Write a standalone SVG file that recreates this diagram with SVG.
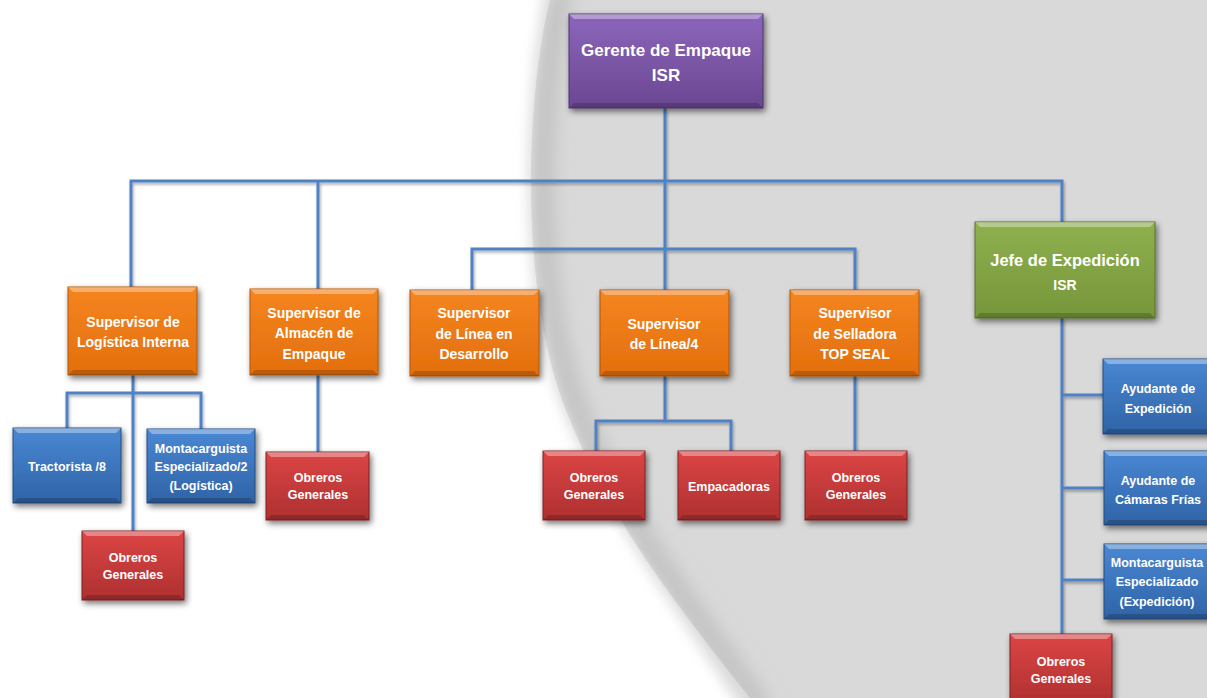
<svg xmlns="http://www.w3.org/2000/svg" width="1207" height="698" viewBox="0 0 1207 698">
<defs>
  <linearGradient id="gPur" x1="0" y1="0" x2="0" y2="1"><stop offset="0" stop-color="#8c66bb"/><stop offset="1" stop-color="#6a4791"/></linearGradient>
  <linearGradient id="gOra" x1="0" y1="0" x2="0" y2="1"><stop offset="0" stop-color="#f58520"/><stop offset="1" stop-color="#e36f0c"/></linearGradient>
  <linearGradient id="gGrn" x1="0" y1="0" x2="0" y2="1"><stop offset="0" stop-color="#8fb04e"/><stop offset="1" stop-color="#76963a"/></linearGradient>
  <linearGradient id="gRed" x1="0" y1="0" x2="0" y2="1"><stop offset="0" stop-color="#dc4545"/><stop offset="1" stop-color="#ae3030"/></linearGradient>
  <linearGradient id="gBlu" x1="0" y1="0" x2="0" y2="1"><stop offset="0" stop-color="#4a88d4"/><stop offset="1" stop-color="#2f63a6"/></linearGradient>
  <filter id="sh" x="-20%" y="-20%" width="140%" height="150%">
    <feGaussianBlur in="SourceAlpha" stdDeviation="3"/>
    <feOffset dx="2" dy="3" result="b"/>
    <feComponentTransfer><feFuncA type="linear" slope="0.55"/></feComponentTransfer>
    <feMerge><feMergeNode/><feMergeNode in="SourceGraphic"/></feMerge>
  </filter>
  <filter id="lsh" x="-5%" y="-5%" width="110%" height="110%">
    <feGaussianBlur in="SourceAlpha" stdDeviation="1.5"/>
    <feOffset dx="1" dy="2"/>
    <feComponentTransfer><feFuncA type="linear" slope="0.35"/></feComponentTransfer>
    <feMerge><feMergeNode/><feMergeNode in="SourceGraphic"/></feMerge>
  </filter>
  <filter id="blur6" x="-10%" y="-10%" width="120%" height="120%"><feGaussianBlur stdDeviation="7"/></filter>
  <filter id="blur8" x="-50%" y="-10%" width="200%" height="120%"><feGaussianBlur stdDeviation="9"/></filter>
  <clipPath id="grayClip"><path d="M550 0C525 100 518 300 570 420C610 520 680 610 750 698H1207V0Z"/></clipPath>
</defs>
<style>
  .t{font-family:"Liberation Sans",Arial,sans-serif;font-weight:bold;fill:#ffffff;text-anchor:middle}
  .big{font-size:17px}
  .mid{font-size:14px}
  .sm{font-size:12.5px}
  .hl{fill:#ffffff;fill-opacity:0.35}
  .dk{fill:#000000;fill-opacity:0.18}
  .bd{stroke-width:1}
  .pur{fill:url(#gPur);stroke:#4e3370}
  .ora{fill:url(#gOra);stroke:#b0560c}
  .grn{fill:url(#gGrn);stroke:#5a7228}
  .red{fill:url(#gRed);stroke:#7e2020}
  .blu{fill:url(#gBlu);stroke:#234d82}
  .con{fill:none;stroke:#4f81c4;stroke-width:3;stroke-linejoin:miter}
</style>
<rect width="1207" height="698" fill="#ffffff"/>
<path d="M548 -20C523 100 516 300 568 420C608 520 678 610 748 718H1230V-20Z" fill="#d9d9d9" filter="url(#blur6)"/>
<g clip-path="url(#grayClip)">
  <path d="M562 -10C537 100 530 300 582 420C622 520 692 610 762 708" fill="none" stroke="#c2c2c2" stroke-width="22" filter="url(#blur8)"/>
</g>

<g id="connectors" filter="url(#lsh)">
  <path class="con" d="M665 108V290"/>
  <path class="con" d="M131 287V181H1062V222"/>
  <path class="con" d="M318 181V289"/>
  <path class="con" d="M472 290V249H855V290"/>
  <path class="con" d="M133 375V531"/>
  <path class="con" d="M67 428V393H201V429"/>
  <path class="con" d="M318 375V452"/>
  <path class="con" d="M665 376V421"/>
  <path class="con" d="M596 451V421H731V451"/>
  <path class="con" d="M855 376V451"/>
  <path class="con" d="M1062 318V634"/>
  <path class="con" d="M1062 395H1103M1062 488H1104M1062 580H1104"/>
</g>

<g id="gerente">
  <rect class="pur bd" x="569" y="14" width="194" height="94" filter="url(#sh)"/>
  <path class="hl" d="M569 14H763L758 19H574Z"/><path class="dk" d="M569 108H763L758 103H574Z"/>
  <text class="t big" x="666" y="56">Gerente de Empaque</text>
  <text class="t big" x="666" y="81">ISR</text>
</g>
<g id="sup-logistica">
  <rect class="ora bd" x="68" y="287" width="129" height="88" filter="url(#sh)"/>
  <path class="hl" d="M68 287H197L192 292H73Z"/><path class="dk" d="M68 375H197L192 370H73Z"/>
  <text class="t mid" x="133" y="327">Supervisor de</text>
  <text class="t mid" x="133" y="347">Logística Interna</text>
</g>
<g id="sup-almacen">
  <rect class="ora bd" x="250" y="289" width="128" height="86" filter="url(#sh)"/>
  <path class="hl" d="M250 289H378L373 294H255Z"/><path class="dk" d="M250 375H378L373 370H255Z"/>
  <text class="t mid" x="314" y="318">Supervisor de</text>
  <text class="t mid" x="314" y="338">Almacén de</text>
  <text class="t mid" x="314" y="359">Empaque</text>
</g>
<g id="sup-desarrollo">
  <rect class="ora bd" x="410" y="290" width="129" height="86" filter="url(#sh)"/>
  <path class="hl" d="M410 290H539L534 295H415Z"/><path class="dk" d="M410 376H539L534 371H415Z"/>
  <text class="t mid" x="474" y="318">Supervisor</text>
  <text class="t mid" x="474" y="339">de Línea en</text>
  <text class="t mid" x="474" y="359">Desarrollo</text>
</g>
<g id="sup-linea">
  <rect class="ora bd" x="600" y="290" width="129" height="86" filter="url(#sh)"/>
  <path class="hl" d="M600 290H729L724 295H605Z"/><path class="dk" d="M600 376H729L724 371H605Z"/>
  <text class="t mid" x="664" y="329">Supervisor</text>
  <text class="t mid" x="664" y="349">de Línea/4</text>
</g>
<g id="sup-selladora">
  <rect class="ora bd" x="790" y="290" width="129" height="86" filter="url(#sh)"/>
  <path class="hl" d="M790 290H919L914 295H795Z"/><path class="dk" d="M790 376H919L914 371H795Z"/>
  <text class="t mid" x="855" y="318">Supervisor</text>
  <text class="t mid" x="855" y="339">de Selladora</text>
  <text class="t mid" x="855" y="359">TOP SEAL</text>
</g>
<g id="jefe-expedicion">
  <rect class="grn bd" x="975" y="222" width="180" height="96" filter="url(#sh)"/>
  <path class="hl" d="M975 222H1155L1150 227H980Z"/><path class="dk" d="M975 318H1155L1150 313H980Z"/>
  <text class="t" style="font-size:16.5px" x="1065" y="266">Jefe de Expedición</text>
  <text class="t mid" x="1065" y="290">ISR</text>
</g>
<g id="tractorista">
  <rect class="blu bd" x="13" y="428" width="108" height="75" filter="url(#sh)"/>
  <path class="hl" d="M13 428H121L116 433H18Z"/><path class="dk" d="M13 503H121L116 498H18Z"/>
  <text class="t sm" x="67" y="471">Tractorista /8</text>
</g>
<g id="montacarguista-log">
  <rect class="blu bd" x="147" y="429" width="108" height="74" filter="url(#sh)"/>
  <path class="hl" d="M147 429H255L250 434H152Z"/><path class="dk" d="M147 503H255L250 498H152Z"/>
  <text class="t sm" x="201" y="453">Montacarguista</text>
  <text class="t sm" x="201" y="471">Especializado/2</text>
  <text class="t sm" x="201" y="490">(Logística)</text>
</g>
<g id="obreros-log">
  <rect class="red bd" x="82" y="531" width="102" height="69" filter="url(#sh)"/>
  <path class="hl" d="M82 531H184L179 536H87Z"/><path class="dk" d="M82 600H184L179 595H87Z"/>
  <text class="t sm" x="133" y="562">Obreros</text>
  <text class="t sm" x="133" y="579">Generales</text>
</g>
<g id="obreros-alm">
  <rect class="red bd" x="266" y="452" width="103" height="68" filter="url(#sh)"/>
  <path class="hl" d="M266 452H369L364 457H271Z"/><path class="dk" d="M266 520H369L364 515H271Z"/>
  <text class="t sm" x="318" y="482">Obreros</text>
  <text class="t sm" x="318" y="499">Generales</text>
</g>
<g id="obreros-lin">
  <rect class="red bd" x="543" y="451" width="102" height="69" filter="url(#sh)"/>
  <path class="hl" d="M543 451H645L640 456H548Z"/><path class="dk" d="M543 520H645L640 515H548Z"/>
  <text class="t sm" x="594" y="482">Obreros</text>
  <text class="t sm" x="594" y="499">Generales</text>
</g>
<g id="empacadoras">
  <rect class="red bd" x="678" y="451" width="102" height="69" filter="url(#sh)"/>
  <path class="hl" d="M678 451H780L775 456H683Z"/><path class="dk" d="M678 520H780L775 515H683Z"/>
  <text class="t sm" x="729" y="491">Empacadoras</text>
</g>
<g id="obreros-sel">
  <rect class="red bd" x="805" y="451" width="102" height="69" filter="url(#sh)"/>
  <path class="hl" d="M805 451H907L902 456H810Z"/><path class="dk" d="M805 520H907L902 515H810Z"/>
  <text class="t sm" x="856" y="482">Obreros</text>
  <text class="t sm" x="856" y="499">Generales</text>
</g>
<g id="ayudante-exp">
  <rect class="blu bd" x="1103" y="359" width="110" height="75" filter="url(#sh)"/>
  <path class="hl" d="M1103 359H1213L1208 364H1108Z"/><path class="dk" d="M1103 434H1213L1208 429H1108Z"/>
  <text class="t sm" x="1158" y="393">Ayudante de</text>
  <text class="t sm" x="1158" y="413">Expedición</text>
</g>
<g id="ayudante-cam">
  <rect class="blu bd" x="1104" y="451" width="110" height="74" filter="url(#sh)"/>
  <path class="hl" d="M1104 451H1214L1209 456H1109Z"/><path class="dk" d="M1104 525H1214L1209 520H1109Z"/>
  <text class="t sm" x="1158" y="485">Ayudante de</text>
  <text class="t sm" x="1158" y="504">Cámaras Frías</text>
</g>
<g id="montacarguista-exp">
  <rect class="blu bd" x="1104" y="544" width="110" height="75" filter="url(#sh)"/>
  <path class="hl" d="M1104 544H1214L1209 549H1109Z"/><path class="dk" d="M1104 619H1214L1209 614H1109Z"/>
  <text class="t sm" x="1157" y="567">Montacarguista</text>
  <text class="t sm" x="1157" y="586">Especializado</text>
  <text class="t sm" x="1157" y="606">(Expedición)</text>
</g>
<g id="obreros-exp">
  <rect class="red bd" x="1010" y="634" width="102" height="72" filter="url(#sh)"/>
  <path class="hl" d="M1010 634H1112L1107 639H1015Z"/>
  <text class="t sm" x="1061" y="666">Obreros</text>
  <text class="t sm" x="1061" y="683">Generales</text>
</g>
</svg>
